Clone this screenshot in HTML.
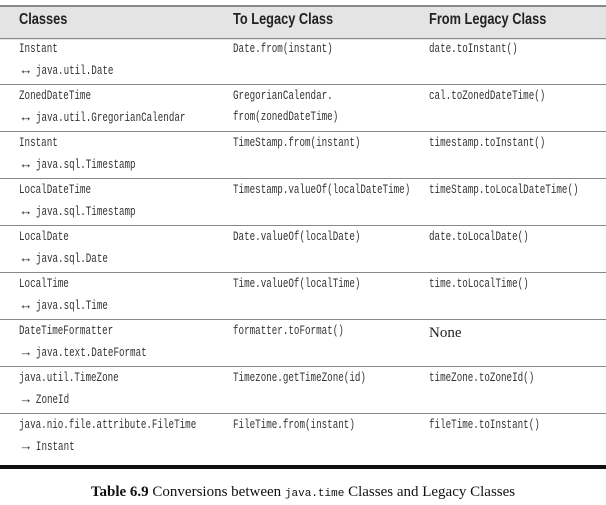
<!DOCTYPE html>
<html><head><style>
body{margin:0;width:606px;height:505px;background:#fff;position:relative;overflow:hidden}
.hdr{position:absolute;left:0;top:5px;width:606px;height:33px;background:#e4e4e4;border-top:2px solid #888}
.h{position:absolute;top:11px;font:bold 16px "Liberation Sans",sans-serif;color:#222;transform:scaleX(.8);transform-origin:left}
.line{position:absolute;left:0;width:606px;height:1px;background:#888}
.t{position:absolute;font:13px "Liberation Mono",monospace;color:#333;white-space:nowrap;transform:scaleX(.71);transform-origin:left}
.a{display:inline-block;font:13px "Liberation Serif",serif;transform:scaleX(1.5);transform-origin:left;width:16px}
.cap{position:absolute;top:484px;width:606px;text-align:center;font:15px "Liberation Serif",serif;color:#111}
</style></head><body>
<div class="hdr"></div>
<div class="h" style="left:19px">Classes</div>
<div class="h" style="left:233px">To Legacy Class</div>
<div class="h" style="left:429px">From Legacy Class</div>
<div class="line" style="top:38px"></div>
<div class="line" style="top:84px"></div>
<div class="line" style="top:131px"></div>
<div class="line" style="top:178px"></div>
<div class="line" style="top:225px"></div>
<div class="line" style="top:272px"></div>
<div class="line" style="top:319px"></div>
<div class="line" style="top:366px"></div>
<div class="line" style="top:413px"></div>
<div style="position:absolute;left:0;top:465px;width:606px;height:4px;background:#111"></div>

<div class="t" style="left:19px;top:41px">Instant</div>
<div class="t" style="left:19px;top:62px"><span class="a">↔</span> java.util.Date</div>
<div class="t" style="left:233px;top:41px">Date.from(instant)</div>
<div class="t" style="left:429px;top:41px">date.toInstant()</div>

<div class="t" style="left:19px;top:88px">ZonedDateTime</div>
<div class="t" style="left:19px;top:109px"><span class="a">↔</span> java.util.GregorianCalendar</div>
<div class="t" style="left:233px;top:88px">GregorianCalendar.</div>
<div class="t" style="left:233px;top:109px">from(zonedDateTime)</div>
<div class="t" style="left:429px;top:88px">cal.toZonedDateTime()</div>

<div class="t" style="left:19px;top:135px">Instant</div>
<div class="t" style="left:19px;top:156px"><span class="a">↔</span> java.sql.Timestamp</div>
<div class="t" style="left:233px;top:135px">TimeStamp.from(instant)</div>
<div class="t" style="left:429px;top:135px">timestamp.toInstant()</div>

<div class="t" style="left:19px;top:182px">LocalDateTime</div>
<div class="t" style="left:19px;top:203px"><span class="a">↔</span> java.sql.Timestamp</div>
<div class="t" style="left:233px;top:182px">Timestamp.valueOf(localDateTime)</div>
<div class="t" style="left:429px;top:182px">timeStamp.toLocalDateTime()</div>

<div class="t" style="left:19px;top:229px">LocalDate</div>
<div class="t" style="left:19px;top:250px"><span class="a">↔</span> java.sql.Date</div>
<div class="t" style="left:233px;top:229px">Date.valueOf(localDate)</div>
<div class="t" style="left:429px;top:229px">date.toLocalDate()</div>

<div class="t" style="left:19px;top:276px">LocalTime</div>
<div class="t" style="left:19px;top:297px"><span class="a">↔</span> java.sql.Time</div>
<div class="t" style="left:233px;top:276px">Time.valueOf(localTime)</div>
<div class="t" style="left:429px;top:276px">time.toLocalTime()</div>

<div class="t" style="left:19px;top:323px">DateTimeFormatter</div>
<div class="t" style="left:19px;top:344px"><span class="a">→</span> java.text.DateFormat</div>
<div class="t" style="left:233px;top:323px">formatter.toFormat()</div>
<div style="position:absolute;left:429px;top:325px;font:15px 'Liberation Serif',serif;color:#222">None</div>

<div class="t" style="left:19px;top:370px">java.util.TimeZone</div>
<div class="t" style="left:19px;top:391px"><span class="a">→</span> ZoneId</div>
<div class="t" style="left:233px;top:370px">Timezone.getTimeZone(id)</div>
<div class="t" style="left:429px;top:370px">timeZone.toZoneId()</div>

<div class="t" style="left:19px;top:417px">java.nio.file.attribute.FileTime</div>
<div class="t" style="left:19px;top:438px"><span class="a">→</span> Instant</div>
<div class="t" style="left:233px;top:417px">FileTime.from(instant)</div>
<div class="t" style="left:429px;top:417px">fileTime.toInstant()</div>

<div class="cap"><b>Table 6.9</b> Conversions between <span style="font:11px 'Liberation Mono',monospace">java.time</span> Classes and Legacy Classes</div>
</body></html>
